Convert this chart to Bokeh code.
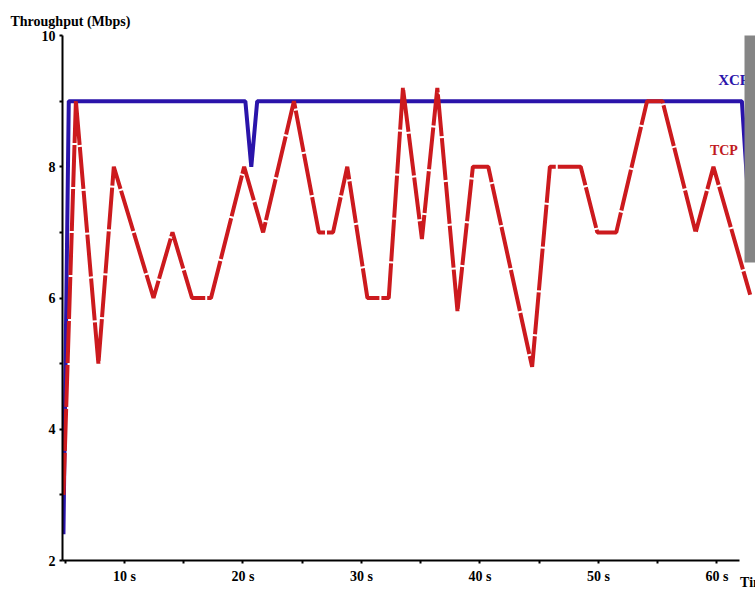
from bokeh.plotting import figure
from bokeh.models import FixedTicker, Label, Range1d, BoxAnnotation
from bokeh.embed import file_html
from bokeh.resources import INLINE

# ---- data ----
xcp_t = [4.85, 5.3, 20.2, 20.7, 21.2, 62.1, 62.6]
xcp_v = [2.4, 9.0, 9.0, 8.0, 9.0, 9.0, 7.6]

tcp_t = [4.85, 5.9, 7.8, 9.1, 12.45, 14.05, 15.7, 17.3, 20.1, 21.7, 24.3,
         26.4, 27.6, 28.8, 30.5, 32.3, 33.5, 35.1, 36.4, 38.1, 39.4, 40.7,
         44.4, 45.9, 48.5, 49.9, 51.5, 54.1, 55.4, 58.2, 59.7, 62.8]
tcp_v = [3.0, 9.0, 5.0, 8.0, 6.0, 7.0, 6.0, 6.0, 8.0, 7.0, 9.0,
         7.0, 7.0, 8.0, 6.0, 6.0, 9.2, 6.9, 9.2, 5.8, 8.0, 8.0,
         4.95, 8.0, 8.0, 7.0, 7.0, 9.0, 9.0, 7.0, 8.0, 6.05]

x_major = [10, 20, 30, 40, 50, 60]
x_labels = ["10 s", "20 s", "30 s", "40 s", "50 s", "60 s"]
x_minor = [5, 15, 25, 35, 45, 55]
y_major = [2, 4, 6, 8, 10]
y_minor = [3, 5, 7, 9]

FONT = "Liberation Serif"

p = figure(width=755, height=592, output_backend="svg", toolbar_location=None,
           x_range=Range1d(4.77, 63.25), y_range=Range1d(2, 10),
           min_border_left=62, min_border_right=0, min_border_top=35,
           min_border_bottom=32)
p.outline_line_color = None
p.xgrid.visible = False
p.ygrid.visible = False
p.background_fill_color = "white"
p.border_fill_color = "white"

p.title.text = "Throughput (Mbps)"
p.title.align = "left"
p.title.offset = -52
p.title.standoff = 14
p.title.text_font = FONT
p.title.text_font_style = "bold"
p.title.text_font_size = "14px"
p.title.text_color = "black"

p.line(xcp_t, xcp_v, line_color="#2a14aa", line_width=4)
p.line(tcp_t, tcp_v, line_color="#cc1a1e", line_width=4, line_dash="42 2")

# axes
for ax in (p.xaxis[0], p.yaxis[0]):
    ax.axis_line_color = "black"
    ax.axis_line_width = 2
    ax.major_tick_line_color = "black"
    ax.minor_tick_line_color = "black"
    ax.major_tick_line_width = 2
    ax.minor_tick_line_width = 2
    ax.major_tick_in = 0
    ax.minor_tick_in = 0
    ax.major_tick_out = 3
    ax.minor_tick_out = 3
    ax.major_label_text_font = FONT
    ax.major_label_text_font_style = "bold"
    ax.major_label_text_color = "black"
    ax.major_label_text_font_size = "14px"

xa = p.xaxis[0]
xa.ticker = FixedTicker(ticks=x_major, minor_ticks=x_minor)
xa.major_label_overrides = {t: s for t, s in zip(x_major, x_labels)}
xa.major_label_standoff = 5

p.yaxis[0].ticker = FixedTicker(ticks=y_major, minor_ticks=y_minor)
p.yaxis[0].major_label_standoff = 4

# "Time" as the x-axis label, at the right end of the axis
if "axis_label_align" in xa.properties():
    xa.bounds = (4.77, 61.9)
    xa.axis_label = "Time"
    xa.axis_label_align = "end"
    xa.axis_label_standoff = -12
    xa.axis_label_text_font = FONT
    xa.axis_label_text_font_style = "bold"
    xa.axis_label_text_font_size = "14px"
    xa.axis_label_text_color = "black"
else:
    xa.axis_label = "Time"

# texts
p.add_layout(Label(x=60.1, y=9.2, text="XCP", text_font=FONT,
                   text_font_style="bold", text_font_size="15px",
                   text_color="#2a14aa"))
p.add_layout(Label(x=59.4, y=8.13, text="TCP", text_font=FONT,
                   text_font_style="bold", text_font_size="14px",
                   text_color="#c01a1e"))

# grey bar at the right edge
p.add_layout(BoxAnnotation(left=682, right=700, top=550, bottom=298,
                           left_units="screen", right_units="screen",
                           top_units="screen", bottom_units="screen",
                           fill_color="#858585", fill_alpha=1.0,
                           line_color=None))

open("out.html", "w").write(file_html(p, INLINE))
